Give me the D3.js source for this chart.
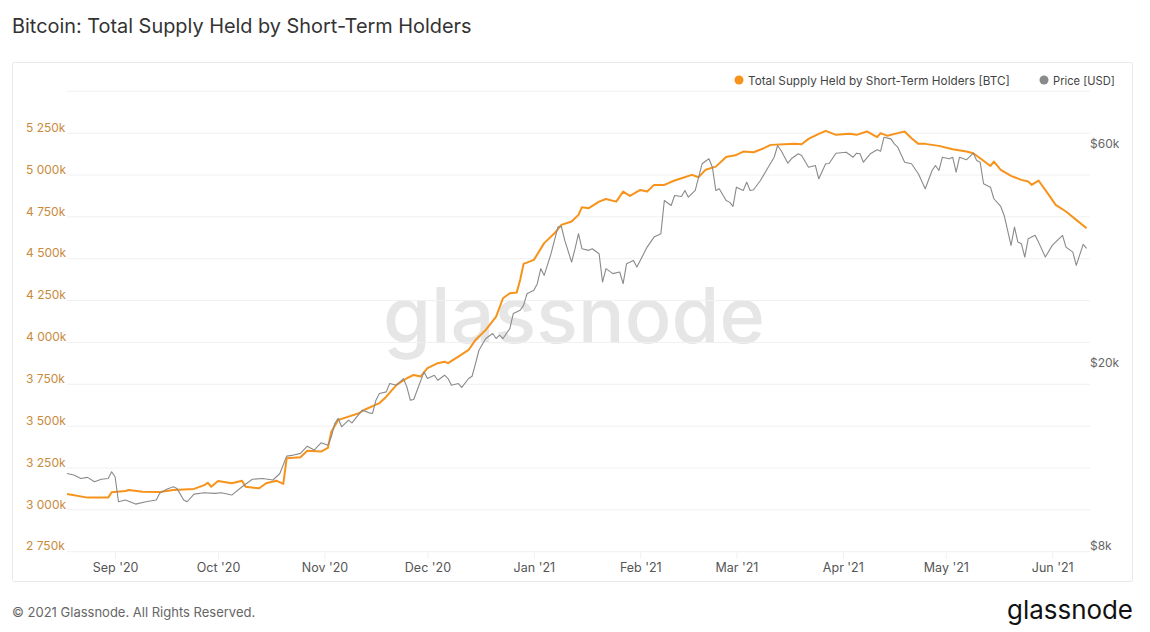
<!DOCTYPE html>
<html>
<head>
<meta charset="utf-8">
<script src="https://cdn.jsdelivr.net/npm/d3@7/dist/d3.min.js"></script>
<style>
  html, body { margin: 0; padding: 0; background: #fff; }
  svg { display: block; font-family: Inter, "Noto Sans", sans-serif; }
</style>
</head>
<body>
<svg id="chart" width="1150" height="632"></svg>
<script>
// ---------------- DATA ----------------
const title = "Bitcoin: Total Supply Held by Short-Term Holders";
const seriesNames = ["Total Supply Held by Short-Term Holders [BTC]", "Price [USD]"];
const monthTicks = ["2020-09-01","2020-10-01","2020-11-01","2020-12-01","2021-01-01","2021-02-01","2021-03-01","2021-04-01","2021-05-01","2021-06-01"];
const leftTicksK = [2750, 3000, 3250, 3500, 3750, 4000, 4250, 4500, 4750, 5000, 5250];
const gridTicksK = [2750, 3000, 3250, 3500, 3750, 4000, 4250, 4500, 4750, 5000, 5250, 5500];
const rightTicks = [8000, 20000, 60000];

// Short-term holder supply (thousands of BTC)
const supplyDates = ["2020-08-18","2020-08-24","2020-08-30","2020-08-31","2020-09-04","2020-09-05","2020-09-09","2020-09-14","2020-09-18","2020-09-24","2020-09-27","2020-09-28","2020-09-29","2020-10-01","2020-10-05","2020-10-08","2020-10-09","2020-10-13","2020-10-15","2020-10-18","2020-10-20","2020-10-21","2020-10-25","2020-10-27","2020-10-31","2020-11-02","2020-11-03","2020-11-05","2020-11-08","2020-11-11","2020-11-13","2020-11-17","2020-11-19","2020-11-22","2020-11-25","2020-11-27","2020-11-29","2020-12-01","2020-12-04","2020-12-06","2020-12-07","2020-12-10","2020-12-13","2020-12-15","2020-12-18","2020-12-21","2020-12-23","2020-12-25","2020-12-27","2020-12-28","2020-12-29","2021-01-01","2021-01-04","2021-01-07","2021-01-09","2021-01-12","2021-01-14","2021-01-15","2021-01-17","2021-01-20","2021-01-22","2021-01-25","2021-01-27","2021-01-29","2021-02-01","2021-02-03","2021-02-05","2021-02-08","2021-02-11","2021-02-13","2021-02-16","2021-02-18","2021-02-20","2021-02-23","2021-02-26","2021-03-01","2021-03-03","2021-03-06","2021-03-09","2021-03-11","2021-03-15","2021-03-18","2021-03-20","2021-03-22","2021-03-25","2021-03-27","2021-03-30","2021-04-03","2021-04-05","2021-04-08","2021-04-11","2021-04-12","2021-04-14","2021-04-17","2021-04-19","2021-04-21","2021-04-23","2021-04-25","2021-04-29","2021-05-03","2021-05-07","2021-05-09","2021-05-11","2021-05-14","2021-05-15","2021-05-17","2021-05-20","2021-05-23","2021-05-25","2021-05-26","2021-05-28","2021-05-31","2021-06-02","2021-06-05","2021-06-08","2021-06-11"];
const supplyK = [3095,3073,3073,3105,3113,3119,3108,3107,3119,3125,3148,3162,3138,3172,3159,3174,3138,3129,3159,3174,3155,3308,3314,3353,3348,3370,3467,3537,3557,3577,3601,3637,3676,3746,3786,3806,3796,3846,3876,3885,3876,3915,3955,4015,4075,4154,4264,4294,4298,4373,4469,4493,4593,4652,4702,4722,4762,4808,4802,4841,4857,4841,4901,4875,4911,4901,4941,4941,4967,4981,5001,4987,5031,5050,5107,5120,5140,5136,5160,5180,5184,5186,5184,5216,5246,5264,5240,5246,5240,5260,5226,5250,5234,5250,5260,5220,5186,5186,5174,5154,5140,5130,5100,5054,5080,5031,4995,4971,4961,4941,4967,4881,4822,4782,4732,4682];

// BTC price (USD)
const priceDates = ["2020-08-18","2020-08-20","2020-08-22","2020-08-24","2020-08-26","2020-08-28","2020-08-30","2020-08-31","2020-09-01","2020-09-02","2020-09-04","2020-09-07","2020-09-10","2020-09-13","2020-09-14","2020-09-16","2020-09-18","2020-09-19","2020-09-21","2020-09-22","2020-09-24","2020-09-27","2020-09-30","2020-10-02","2020-10-05","2020-10-08","2020-10-11","2020-10-14","2020-10-17","2020-10-19","2020-10-21","2020-10-23","2020-10-25","2020-10-27","2020-10-29","2020-10-31","2020-11-02","2020-11-03","2020-11-04","2020-11-05","2020-11-06","2020-11-08","2020-11-09","2020-11-12","2020-11-14","2020-11-15","2020-11-16","2020-11-17","2020-11-19","2020-11-20","2020-11-22","2020-11-24","2020-11-25","2020-11-26","2020-11-27","2020-11-28","2020-11-30","2020-12-01","2020-12-03","2020-12-04","2020-12-06","2020-12-07","2020-12-08","2020-12-10","2020-12-11","2020-12-13","2020-12-14","2020-12-15","2020-12-16","2020-12-18","2020-12-20","2020-12-21","2020-12-22","2020-12-23","2020-12-25","2020-12-26","2020-12-28","2020-12-29","2020-12-30","2021-01-01","2021-01-02","2021-01-03","2021-01-04","2021-01-06","2021-01-08","2021-01-09","2021-01-10","2021-01-12","2021-01-13","2021-01-14","2021-01-15","2021-01-17","2021-01-18","2021-01-20","2021-01-21","2021-01-22","2021-01-24","2021-01-26","2021-01-27","2021-01-28","2021-01-30","2021-01-31","2021-02-03","2021-02-05","2021-02-07","2021-02-08","2021-02-10","2021-02-11","2021-02-13","2021-02-14","2021-02-15","2021-02-17","2021-02-18","2021-02-19","2021-02-21","2021-02-22","2021-02-23","2021-02-24","2021-02-26","2021-02-27","2021-02-28","2021-03-01","2021-03-03","2021-03-04","2021-03-05","2021-03-06","2021-03-08","2021-03-10","2021-03-12","2021-03-13","2021-03-14","2021-03-16","2021-03-17","2021-03-19","2021-03-20","2021-03-22","2021-03-24","2021-03-25","2021-03-27","2021-03-28","2021-03-30","2021-04-02","2021-04-04","2021-04-05","2021-04-06","2021-04-07","2021-04-09","2021-04-11","2021-04-12","2021-04-13","2021-04-15","2021-04-16","2021-04-17","2021-04-19","2021-04-21","2021-04-23","2021-04-25","2021-04-27","2021-04-28","2021-04-29","2021-04-30","2021-05-02","2021-05-03","2021-05-04","2021-05-05","2021-05-07","2021-05-09","2021-05-10","2021-05-11","2021-05-12","2021-05-14","2021-05-15","2021-05-17","2021-05-18","2021-05-19","2021-05-20","2021-05-21","2021-05-22","2021-05-23","2021-05-24","2021-05-25","2021-05-27","2021-05-28","2021-05-30","2021-06-01","2021-06-04","2021-06-05","2021-06-07","2021-06-08","2021-06-10","2021-06-11"];
const priceUSD = [11830,11740,11540,11600,11350,11490,11540,11930,11640,10270,10360,10150,10270,10360,10710,10930,11070,10980,10360,10270,10670,10740,10710,10740,10620,11070,11490,11540,11450,11830,12900,12970,13080,13560,13300,13790,13630,14210,15190,15580,14940,15450,15240,16240,16020,15970,17070,17650,17790,18550,18400,19020,18240,17070,17130,17940,19660,19020,19340,18860,19340,19020,18400,18550,18190,19020,19240,20500,21910,23230,23820,23230,23620,23230,24420,26320,26760,27430,29080,29570,30570,32950,31870,35510,40560,40710,37950,34050,36410,39250,36410,36110,36410,35510,30820,32950,32140,32400,30570,33780,34340,33210,36700,38590,39250,46340,45200,47520,47280,48720,47120,48720,52070,55670,57080,54730,48720,49140,46340,45960,44980,49530,48720,50790,48720,48890,51210,54300,57530,61000,59490,55840,57080,58520,58030,54730,55200,51650,55670,55750,58700,58990,57530,58700,58520,56120,58520,59710,59290,63580,63070,61520,60490,56120,55670,52960,49140,53840,55200,53840,57530,57080,57530,53380,57530,56790,58700,56600,56120,50380,49530,46740,44980,43000,39900,37020,40560,37630,37330,34920,38280,38920,37630,34920,37020,38920,36700,35800,33500,37200,36470];

// ---------------- LAYOUT ----------------
const plot = { left: 67, right: 1090, top: 91.3, bottom: 551.7 };
const svg = d3.select("#chart");
const parse = d3.utcParse("%Y-%m-%d");

const x = d3.scaleUtc()
  .domain([parse("2020-08-18"), parse("2021-06-12")])
  .range([plot.left, plot.right]);
const yL = d3.scaleLinear().domain([2750, 5500]).range([plot.bottom, plot.top]);
const yR = d3.scaleLog().domain([8000, 80000]).range([plot.bottom, plot.top]);

function fitWidth(el, target) {
  const w = el.node().getComputedTextLength();
  const fs = parseFloat(el.attr("font-size"));
  el.attr("font-size", fs * target / w);
}

// title
const titleEl = svg.append("text")
  .attr("x", 12).attr("y", 33)
  .attr("font-size", 19).attr("fill", "#333")
  .attr("font-weight", 400)
  .text(title);
fitWidth(titleEl, 460);

// panel
svg.append("rect")
  .attr("x", 12.5).attr("y", 62.5)
  .attr("width", 1120).attr("height", 519)
  .attr("rx", 2)
  .attr("fill", "#fff").attr("stroke", "#e8e8e8");

// watermark
const wm = svg.append("text")
  .attr("x", 574).attr("y", 343)
  .attr("text-anchor", "middle")
  .attr("font-size", 75).attr("fill", "#e6e6e6")
  .attr("font-weight", 500)
  .text("glassnode");
fitWidth(wm, 382);

// gridlines
svg.append("g").selectAll("line").data(gridTicksK).join("line")
  .attr("x1", plot.left).attr("x2", plot.right)
  .attr("y1", d => yL(d)).attr("y2", d => yL(d))
  .attr("stroke", "#f0f0f0").attr("stroke-width", 1);

// x axis
const xAxis = d3.axisBottom(x)
  .tickValues(monthTicks.map(parse))
  .tickFormat(d3.utcFormat("%b '%y"))
  .tickSize(7).tickPadding(4);
const gx = svg.append("g").attr("transform", `translate(0,${plot.bottom})`).call(xAxis);
gx.select(".domain").remove();
gx.selectAll(".tick line").attr("stroke", "#f0f0f0");
gx.selectAll(".tick text").attr("fill", "#555").attr("font-size", 12.5)
  .attr("font-family", "Inter, 'Noto Sans', sans-serif");

// left axis
const fmtK = d => d3.format(",")(d).replace(/,/g, " ") + "k";
const yAxisL = d3.axisLeft(yL).tickValues(leftTicksK).tickFormat(fmtK).tickSize(0).tickPadding(0);
const gl = svg.append("g").attr("transform", `translate(26,0)`).call(yAxisL);
gl.select(".domain").remove();
gl.selectAll(".tick text")
  .attr("text-anchor", "start").attr("x", 0).attr("dy", "-0.15em")
  .attr("fill", "#c98a3c").attr("font-size", 12)
  .attr("font-family", "Inter, 'Noto Sans', sans-serif");

// right axis
const fmtUSD = d => "$" + (d / 1000) + "k";
const yAxisR = d3.axisRight(yR).tickValues(rightTicks).tickFormat(fmtUSD).tickSize(0).tickPadding(0);
const gr = svg.append("g").attr("transform", `translate(1090,0)`).call(yAxisR);
gr.select(".domain").remove();
gr.selectAll(".tick text")
  .attr("x", 0).attr("dy", "-0.15em")
  .attr("fill", "#666").attr("font-size", 12)
  .attr("font-family", "Inter, 'Noto Sans', sans-serif");

// lines
const supplyData = supplyDates.map((d, i) => ({ date: parse(d), v: supplyK[i] }));
const priceData = priceDates.map((d, i) => ({ date: parse(d), v: priceUSD[i] }));

svg.append("path").datum(supplyData)
  .attr("fill", "none").attr("stroke", "#f7931a").attr("stroke-width", 2)
  .attr("stroke-linejoin", "round")
  .attr("d", d3.line().x(d => x(d.date)).y(d => yL(d.v)));

svg.append("path").datum(priceData)
  .attr("fill", "none").attr("stroke", "#8a8a8a").attr("stroke-width", 1.1)
  .attr("stroke-linejoin", "round")
  .attr("d", d3.line().x(d => x(d.date)).y(d => yR(d.v)));

// legend
const legend = svg.append("g");
const legendItems = [
  { name: seriesNames[0], color: "#f7931a", cx: 739, w: 262 },
  { name: seriesNames[1], color: "#8a8a8a", cx: 1044, w: 62 }
];
legendItems.forEach(it => {
  legend.append("circle").attr("cx", it.cx).attr("cy", 80).attr("r", 4.5).attr("fill", it.color);
  const t = legend.append("text").attr("x", it.cx + 9).attr("y", 84.5)
    .attr("font-size", 12.5).attr("fill", "#444").text(it.name);
  fitWidth(t, it.w);
});

// footer
svg.append("text").attr("x", 12).attr("y", 617)
  .attr("font-size", 13).attr("fill", "#666")
  .text("© 2021 Glassnode. All Rights Reserved.");

const logo = svg.append("text").attr("x", 1133).attr("y", 619)
  .attr("text-anchor", "end")
  .attr("font-size", 27).attr("fill", "#111").attr("font-weight", 400)
  .text("glassnode");
fitWidth(logo, 126);
</script>
</body>
</html>
